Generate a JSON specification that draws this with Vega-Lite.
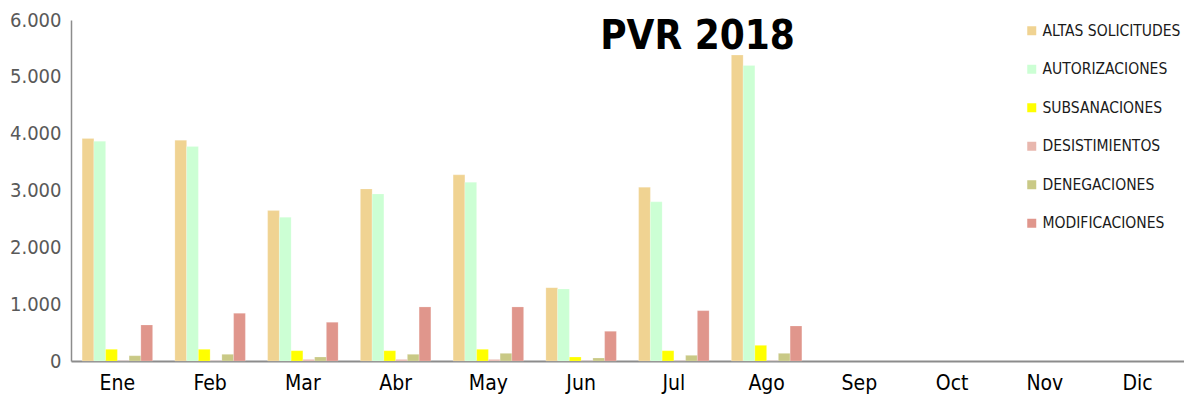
{
  "$schema": "https://vega.github.io/schema/vega-lite/v6.json",
  "width": 1113,
  "height": 341,
  "autosize": {"type": "none"},
  "padding": {"left": 71, "top": 20, "right": 0, "bottom": 51},
  "background": "white",
  "title": {
    "text": "PVR 2018",
    "font": "DejaVu Sans Condensed",
    "fontWeight": "bold",
    "fontSize": 40,
    "color": "#000000",
    "anchor": "middle",
    "dx": 70,
    "baseline": "top",
    "offset": -47
  },
  "config": {
    "view": {"stroke": null},
    "axis": {"grid": false}
  },
  "data": {
    "values": [
      {"mes": "Ene", "serie": "ALTAS SOLICITUDES", "valor": 3914},
      {"mes": "Ene", "serie": "AUTORIZACIONES", "valor": 3868},
      {"mes": "Ene", "serie": "SUBSANACIONES", "valor": 206},
      {"mes": "Ene", "serie": "DESISTIMIENTOS", "valor": 5},
      {"mes": "Ene", "serie": "DENEGACIONES", "valor": 93},
      {"mes": "Ene", "serie": "MODIFICACIONES", "valor": 634},
      {"mes": "Feb", "serie": "ALTAS SOLICITUDES", "valor": 3885},
      {"mes": "Feb", "serie": "AUTORIZACIONES", "valor": 3773},
      {"mes": "Feb", "serie": "SUBSANACIONES", "valor": 206},
      {"mes": "Feb", "serie": "DESISTIMIENTOS", "valor": 5},
      {"mes": "Feb", "serie": "DENEGACIONES", "valor": 118},
      {"mes": "Feb", "serie": "MODIFICACIONES", "valor": 840},
      {"mes": "Mar", "serie": "ALTAS SOLICITUDES", "valor": 2646},
      {"mes": "Mar", "serie": "AUTORIZACIONES", "valor": 2530},
      {"mes": "Mar", "serie": "SUBSANACIONES", "valor": 181},
      {"mes": "Mar", "serie": "DESISTIMIENTOS", "valor": 28},
      {"mes": "Mar", "serie": "DENEGACIONES", "valor": 70},
      {"mes": "Mar", "serie": "MODIFICACIONES", "valor": 681},
      {"mes": "Abr", "serie": "ALTAS SOLICITUDES", "valor": 3028},
      {"mes": "Abr", "serie": "AUTORIZACIONES", "valor": 2940},
      {"mes": "Abr", "serie": "SUBSANACIONES", "valor": 181},
      {"mes": "Abr", "serie": "DESISTIMIENTOS", "valor": 28},
      {"mes": "Abr", "serie": "DENEGACIONES", "valor": 118},
      {"mes": "Abr", "serie": "MODIFICACIONES", "valor": 951},
      {"mes": "May", "serie": "ALTAS SOLICITUDES", "valor": 3275},
      {"mes": "May", "serie": "AUTORIZACIONES", "valor": 3146},
      {"mes": "May", "serie": "SUBSANACIONES", "valor": 206},
      {"mes": "May", "serie": "DESISTIMIENTOS", "valor": 28},
      {"mes": "May", "serie": "DENEGACIONES", "valor": 135},
      {"mes": "May", "serie": "MODIFICACIONES", "valor": 951},
      {"mes": "Jun", "serie": "ALTAS SOLICITUDES", "valor": 1291},
      {"mes": "Jun", "serie": "AUTORIZACIONES", "valor": 1268},
      {"mes": "Jun", "serie": "SUBSANACIONES", "valor": 70},
      {"mes": "Jun", "serie": "DESISTIMIENTOS", "valor": 5},
      {"mes": "Jun", "serie": "DENEGACIONES", "valor": 53},
      {"mes": "Jun", "serie": "MODIFICACIONES", "valor": 523},
      {"mes": "Jul", "serie": "ALTAS SOLICITUDES", "valor": 3058},
      {"mes": "Jul", "serie": "AUTORIZACIONES", "valor": 2800},
      {"mes": "Jul", "serie": "SUBSANACIONES", "valor": 181},
      {"mes": "Jul", "serie": "DESISTIMIENTOS", "valor": 5},
      {"mes": "Jul", "serie": "DENEGACIONES", "valor": 100},
      {"mes": "Jul", "serie": "MODIFICACIONES", "valor": 886},
      {"mes": "Ago", "serie": "ALTAS SOLICITUDES", "valor": 5382},
      {"mes": "Ago", "serie": "AUTORIZACIONES", "valor": 5199},
      {"mes": "Ago", "serie": "SUBSANACIONES", "valor": 276},
      {"mes": "Ago", "serie": "DESISTIMIENTOS", "valor": 5},
      {"mes": "Ago", "serie": "DENEGACIONES", "valor": 135},
      {"mes": "Ago", "serie": "MODIFICACIONES", "valor": 616}
    ]
  },
  "mark": {"type": "bar", "stroke": "#ffffff", "strokeOpacity": 0.4, "strokeWidth": 0.5},
  "encoding": {
    "x": {
      "field": "mes",
      "type": "nominal",
      "scale": {
        "domain": ["Ene", "Feb", "Mar", "Abr", "May", "Jun", "Jul", "Ago", "Sep", "Oct", "Nov", "Dic"],
        "paddingInner": 0.24,
        "paddingOuter": 0.12
      },
      "axis": {
        "title": null,
        "labelAngle": 0,
        "ticks": false,
        "domainColor": "#8c8c8c",
        "domainWidth": 2,
        "labelFont": "DejaVu Sans Condensed",
        "labelFontSize": 21,
        "labelColor": "#000000",
        "labelPadding": 11
      }
    },
    "xOffset": {
      "field": "serie",
      "type": "nominal",
      "sort": ["ALTAS SOLICITUDES", "AUTORIZACIONES", "SUBSANACIONES", "DESISTIMIENTOS", "DENEGACIONES", "MODIFICACIONES"],
      "scale": {"paddingInner": 0, "paddingOuter": 0}
    },
    "y": {
      "field": "valor",
      "type": "quantitative",
      "scale": {"domain": [0, 6000], "nice": false},
      "axis": {
        "title": null,
        "values": [0, 1000, 2000, 3000, 4000, 5000, 6000],
        "labelExpr": "replace(format(datum.value, ',d'), ',', '.')",
        "ticks": false,
        "domainColor": "#8c8c8c",
        "domainWidth": 1.5,
        "labelFont": "DejaVu Sans Condensed",
        "labelFontSize": 20,
        "labelColor": "#595959",
        "labelPadding": 10
      }
    },
    "color": {
      "field": "serie",
      "type": "nominal",
      "sort": ["ALTAS SOLICITUDES", "AUTORIZACIONES", "SUBSANACIONES", "DESISTIMIENTOS", "DENEGACIONES", "MODIFICACIONES"],
      "scale": {
        "domain": ["ALTAS SOLICITUDES", "AUTORIZACIONES", "SUBSANACIONES", "DESISTIMIENTOS", "DENEGACIONES", "MODIFICACIONES"],
        "range": ["#F0D392", "#CCFFD4", "#FFFF00", "#E8B7AE", "#C9C986", "#E0968C"]
      },
      "legend": {
        "title": null,
        "orient": "none",
        "legendX": 953,
        "legendY": 3,
        "symbolType": "square",
        "symbolSize": 81,
        "symbolStrokeWidth": 0,
        "labelFont": "DejaVu Sans Condensed",
        "labelFontSize": 15.5,
        "labelLimit": 220,
        "labelColor": "#1a1a1a",
        "labelOffset": 3,
        "rowPadding": 21.5
      }
    }
  }
}
